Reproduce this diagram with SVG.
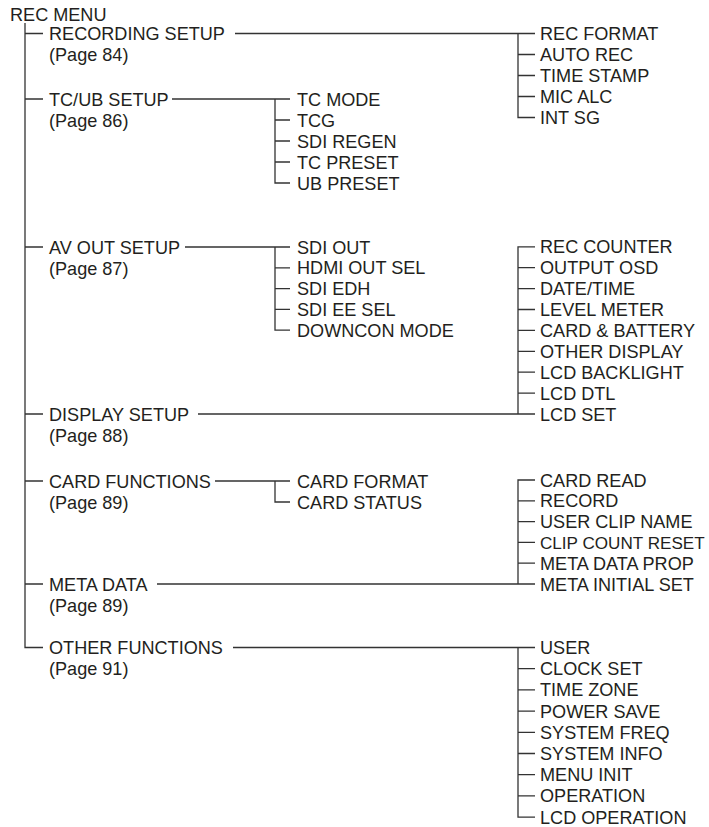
<svg xmlns="http://www.w3.org/2000/svg" width="709" height="827" viewBox="0 0 709 827">
<style>
.t{font-family:"Liberation Sans",Arial,sans-serif;font-size:18.1px;fill:#231f20}
.s{font-size:17.1px}
.c{stroke:#333;stroke-width:1.3;fill:none}
</style>
<rect width="709" height="827" fill="#fff"/>
<g id="connectors" class="c">
<path d="M25,23V647.5H43M25,33.5H43M25,99H43M25,247H43M25,414H43M25,481H43M25,584H43"/>
<path d="M235,33.5H535M518,33.5V117.5H535M518,54.5H535M518,75.5H535M518,96.5H535"/>
<path d="M172,99H290M275,99V183H290M275,120H290M275,141H290M275,162H290"/>
<path d="M185,247H290M275,247V330.2H290M275,267.8H290M275,288.6H290M275,309.4H290"/>
<path d="M198,414H535M535,246.8H518V414M518,267.7H535M518,288.6H535M518,309.5H535M518,330.4H535M518,351.3H535M518,372.2H535M518,393.1H535"/>
<path d="M215,481H290M275,481V502H290"/>
<path d="M157,584H535M535,480H518V584M518,500.8H535M518,521.6H535M518,542.4H535M518,563.2H535"/>
<path d="M233,647.5H535M518,647.5V817.1H535M518,668.7H535M518,689.9H535M518,711.1H535M518,732.3H535M518,753.5H535M518,774.7H535M518,795.9H535"/>
</g>
<g id="rec-menu" class="t"><text x="10" y="20.5">REC MENU</text></g>
<g id="recording-setup" class="t"><text x="49" y="40">RECORDING SETUP</text><text x="49" y="61">(Page 84)</text></g>
<g id="tcub-setup" class="t"><text x="49" y="105.5">TC/UB SETUP</text><text x="49" y="126.5">(Page 86)</text></g>
<g id="av-out-setup" class="t"><text x="49" y="253.5">AV OUT SETUP</text><text x="49" y="274.5">(Page 87)</text></g>
<g id="display-setup" class="t"><text x="49" y="420.5">DISPLAY SETUP</text><text x="49" y="441.5">(Page 88)</text></g>
<g id="card-functions" class="t"><text x="49" y="487.5">CARD FUNCTIONS</text><text x="49" y="508.5">(Page 89)</text></g>
<g id="meta-data" class="t"><text x="49" y="590.5">META DATA</text><text x="49" y="611.5">(Page 89)</text></g>
<g id="other-functions" class="t"><text x="49" y="654">OTHER FUNCTIONS</text><text x="49" y="675">(Page 91)</text></g>
<g id="rec-items" class="t">
<text x="540" y="40">REC FORMAT</text>
<text x="540" y="61">AUTO REC</text>
<text x="540" y="82">TIME STAMP</text>
<text x="540" y="103">MIC ALC</text>
<text x="540" y="124">INT SG</text>
</g>
<g id="tc-items" class="t">
<text x="297" y="105.5">TC MODE</text>
<text x="297" y="126.5">TCG</text>
<text x="297" y="147.5">SDI REGEN</text>
<text x="297" y="168.5">TC PRESET</text>
<text x="297" y="189.5">UB PRESET</text>
</g>
<g id="av-items" class="t">
<text x="297" y="253.5">SDI OUT</text>
<text x="297" y="274.3">HDMI OUT SEL</text>
<text x="297" y="295.1">SDI EDH</text>
<text x="297" y="315.9">SDI EE SEL</text>
<text x="297" y="336.7">DOWNCON MODE</text>
</g>
<g id="display-items" class="t">
<text x="540" y="253.3">REC COUNTER</text>
<text x="540" y="274.2">OUTPUT OSD</text>
<text x="540" y="295.1">DATE/TIME</text>
<text x="540" y="316">LEVEL METER</text>
<text x="540" y="336.9">CARD &amp; BATTERY</text>
<text x="540" y="357.8">OTHER DISPLAY</text>
<text x="540" y="378.7">LCD BACKLIGHT</text>
<text x="540" y="399.6">LCD DTL</text>
<text x="540" y="420.5">LCD SET</text>
</g>
<g id="card-items" class="t">
<text x="297" y="487.5">CARD FORMAT</text>
<text x="297" y="508.5">CARD STATUS</text>
</g>
<g id="meta-items" class="t">
<text x="540" y="486.5">CARD READ</text>
<text x="540" y="507.3">RECORD</text>
<text x="540" y="528.1">USER CLIP NAME</text>
<text x="540" y="548.9" class="s">CLIP COUNT RESET</text>
<text x="540" y="569.7">META DATA PROP</text>
<text x="540" y="590.5">META INITIAL SET</text>
</g>
<g id="other-items" class="t">
<text x="540" y="654">USER</text>
<text x="540" y="675.2">CLOCK SET</text>
<text x="540" y="696.4">TIME ZONE</text>
<text x="540" y="717.6">POWER SAVE</text>
<text x="540" y="738.8">SYSTEM FREQ</text>
<text x="540" y="760">SYSTEM INFO</text>
<text x="540" y="781.2">MENU INIT</text>
<text x="540" y="802.4">OPERATION</text>
<text x="540" y="823.6">LCD OPERATION</text>
</g>
</svg>
